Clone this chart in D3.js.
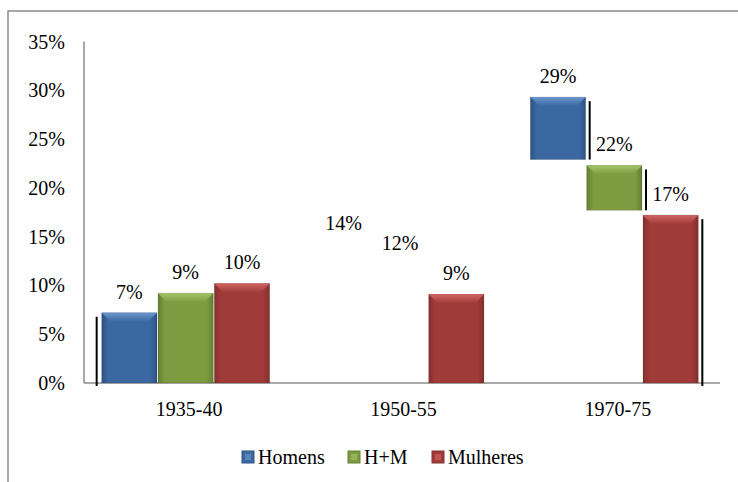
<!DOCTYPE html>
<html>
<head>
<meta charset="utf-8">
<script src="https://cdn.jsdelivr.net/npm/d3@7"></script>
<style>
	body { margin: 0; background: #fff; }
	text { font-family: 'Liberation Serif', 'DejaVu Serif', serif; }
</style>
</head>
<body>
<svg id="chart"></svg>
<script>
	'use strict';

	var categories = ['1935-40', '1950-55', '1970-75'];
	var seriesNames = ['Homens', 'H+M', 'Mulheres'];
	var homens = [7.2, 14.2, 29.3];
	var hm = [9.2, 12.2, 22.3];
	var mulheres = [10.2, 9.1, 17.2];
	// part of each bar that actually shows (the rest is blanked out in the original)
	var homensFloor = [0, 14.2, 22.9];
	var hmFloor = [0, 12.2, 17.7];
	var mulheresFloor = [0, 0, 0];
	var yTicks = [0, 5, 10, 15, 20, 25, 30, 35];
	// stray dark edge lines next to some bars
	var edgeLines = [
		{cat: '1935-40', series: 'Homens', side: 'left'},
		{cat: '1970-75', series: 'Homens', side: 'right'},
		{cat: '1970-75', series: 'H+M', side: 'right'},
		{cat: '1970-75', series: 'Mulheres', side: 'right'}
	];

	var colors = {
		'Homens': {base: '#3c68a1', dark: '#2d5284', light: '#6a96cd'},
		'H+M': {base: '#7d9b41', dark: '#647f33', light: '#a5c466'},
		'Mulheres': {base: '#a13b39', dark: '#83302e', light: '#d06663'}
	};

	var values = {'Homens': homens, 'H+M': hm, 'Mulheres': mulheres};
	var floors = {'Homens': homensFloor, 'H+M': hmFloor, 'Mulheres': mulheresFloor};

	var width = 738, height = 482;
	var svg = d3.select('#chart')
		.attr('width', width).attr('height', height);

	var x = d3.scaleBand().domain(categories).range([79, 722]);
	var xs = d3.scaleBand().domain(seriesNames).range([-84.5, 84.5]);
	var y = d3.scaleLinear().domain([0, 35]).range([383, 41.5]);
	var fmt = function(v) { return Math.round(v) + '%'; };

	// Outer frame (runs off the page on the right and bottom)
	svg.append('rect')
		.attr('x', 8).attr('y', 11)
		.attr('width', 800).attr('height', 600)
		.attr('fill', 'none')
		.attr('stroke', '#8c8c8c')
		.attr('stroke-width', 1.5);

	// Gradients
	var defs = svg.append('defs');
	seriesNames.forEach(function(s, i) {
		var g = defs.append('linearGradient')
			.attr('id', 'grad' + i)
			.attr('x1', '0%').attr('x2', '100%');
		g.append('stop').attr('offset', '0%').attr('stop-color', colors[s].dark);
		g.append('stop').attr('offset', '12%').attr('stop-color', colors[s].base);
		g.append('stop').attr('offset', '88%').attr('stop-color', colors[s].base);
		g.append('stop').attr('offset', '100%').attr('stop-color', colors[s].dark);

		var t = defs.append('linearGradient')
			.attr('id', 'top' + i)
			.attr('x1', '0%').attr('x2', '0%')
			.attr('y1', '0%').attr('y2', '100%');
		t.append('stop').attr('offset', '0%').attr('stop-color', colors[s].light);
		t.append('stop').attr('offset', '100%').attr('stop-color', colors[s].base);
	});

	// Axes
	svg.append('line')
		.attr('x1', 84).attr('x2', 84)
		.attr('y1', y(35)).attr('y2', y(0))
		.attr('stroke', '#8c8c8c').attr('stroke-width', 1.5);
	svg.append('line')
		.attr('x1', 84).attr('x2', 720)
		.attr('y1', y(0)).attr('y2', y(0))
		.attr('stroke', '#8c8c8c').attr('stroke-width', 1.5);

	svg.append('g').selectAll('text')
		.data(yTicks)
		.enter().append('text')
		.attr('x', 65)
		.attr('y', function(d) { return y(d); })
		.attr('dy', '0.35em')
		.attr('text-anchor', 'end')
		.style('font-size', '20px')
		.text(function(d) { return d + '%'; });

	svg.append('g').selectAll('text')
		.data(categories)
		.enter().append('text')
		.attr('x', function(d) { return x(d) + x.bandwidth() / 2 + 3; })
		.attr('y', 409)
		.attr('dy', '0.35em')
		.attr('text-anchor', 'middle')
		.style('font-size', '20px')
		.text(function(d) { return d; });

	// Bars
	var bw = xs.bandwidth() - 1;
	var bars = [];
	seriesNames.forEach(function(s, si) {
		categories.forEach(function(c, ci) {
			bars.push({series: s, si: si, cat: c, value: values[s][ci], floor: floors[s][ci]});
		});
	});
	var barX = function(d) { return x(d.cat) + x.bandwidth() / 2 + xs(d.series); };
	var findBar = function(d) {
		return bars.find(function(e) { return e.cat == d.cat && e.series == d.series; });
	};

	var barG = svg.append('g').selectAll('g')
		.data(bars.filter(function(d) { return d.value > d.floor; }))
		.enter().append('g');

	barG.append('rect')
		.attr('x', barX)
		.attr('y', function(d) { return y(d.value); })
		.attr('width', bw)
		.attr('height', function(d) { return y(d.floor) - y(d.value); })
		.attr('fill', function(d) { return 'url(#grad' + d.si + ')'; })
		.attr('stroke', 'rgba(0,0,0,0.12)')
		.attr('stroke-width', 1);

	// top bevel
	barG.append('path')
		.attr('fill', function(d) { return 'url(#top' + d.si + ')'; })
		.attr('d', function(d) {
			var x0 = barX(d), x1 = x0 + bw, t = y(d.value);
			return 'M' + x0 + ',' + t + 'L' + x1 + ',' + t +
				'L' + (x1 - 9) + ',' + (t + 9) + 'L' + (x0 + 9) + ',' + (t + 9) + 'Z';
		});

	// Data labels
	svg.append('g').selectAll('text')
		.data(bars)
		.enter().append('text')
		.attr('x', function(d) { return barX(d) + bw / 2; })
		.attr('y', function(d) { return y(d.value) - 21; })
		.attr('dy', '0.35em')
		.attr('text-anchor', 'middle')
		.style('font-size', '20px')
		.text(function(d) { return fmt(d.value); });

	// Edge lines
	var edgeX = function(d) {
		var b = findBar(d);
		return d.side == 'left' ? barX(b) - 5 : barX(b) + bw + 4;
	};
	svg.append('g').selectAll('line')
		.data(edgeLines)
		.enter().append('line')
		.attr('x1', edgeX)
		.attr('x2', edgeX)
		.attr('y1', function(d) { return y(findBar(d).value) + 4; })
		.attr('y2', function(d) {
			var b = findBar(d);
			return b.floor > 0 ? y(b.floor) : y(0) + 3;
		})
		.attr('stroke', '#000')
		.attr('stroke-width', 2);

	// Legend
	var legendX = [242, 348, 432];
	var legend = svg.append('g').selectAll('g')
		.data(seriesNames)
		.enter().append('g')
		.attr('transform', function(d, i) { return 'translate(' + legendX[i] + ',451)'; });

	legend.append('rect')
		.attr('width', 12).attr('height', 12)
		.attr('fill', function(d) { return colors[d].base; })
		.attr('stroke', function(d) { return colors[d].dark; });
	legend.append('rect')
		.attr('x', 3).attr('y', 3)
		.attr('width', 6).attr('height', 6)
		.attr('fill', function(d) { return colors[d].light; })
		.attr('opacity', 0.6);
	legend.append('text')
		.attr('x', 16).attr('y', 6)
		.attr('dy', '0.35em')
		.style('font-size', '20px')
		.text(function(d) { return d; });
</script>
</body>
</html>
